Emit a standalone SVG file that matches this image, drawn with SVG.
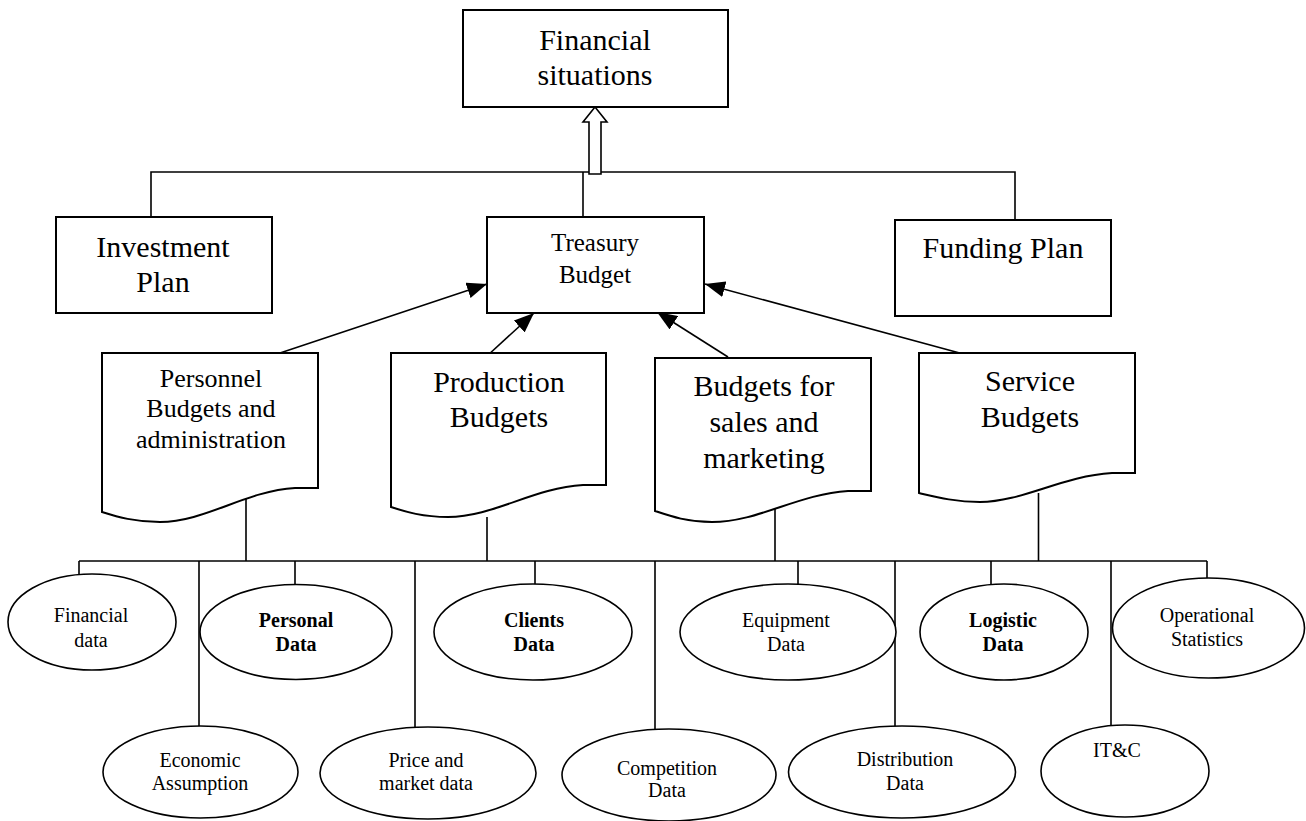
<svg xmlns="http://www.w3.org/2000/svg" width="1306" height="821" viewBox="0 0 1306 821">
<style>
.bx{fill:#fff;stroke:#000;stroke-width:2}
.el{fill:#fff;stroke:#000;stroke-width:1.6}
.ln{fill:none;stroke:#000;stroke-width:1.6}
.t{font-family:"Liberation Serif","Times New Roman",serif;fill:#000;text-anchor:middle}
.b{font-weight:bold}
</style>
<defs>
<marker id="ah" markerWidth="22" markerHeight="16" refX="20" refY="8" orient="auto" markerUnits="userSpaceOnUse">
<path d="M0,0 L20,8 L0,16 Z" fill="#000"/>
</marker>
</defs>
<rect width="1306" height="821" fill="#fff"/>
<g id="connectors">
<path class="ln" d="M151,217 V172 H1015 V220"/>
<path class="ln" d="M583,172 V217"/>
<path d="M589,174 V122 H583 L595,107 L607,122 H601 V174 Z" fill="#fff" stroke="#000" stroke-width="1.6"/>
<line class="ln" x1="271" y1="356" x2="487" y2="284" marker-end="url(#ah)"/>
<line class="ln" x1="487" y1="356" x2="534" y2="313" marker-end="url(#ah)"/>
<line class="ln" x1="728" y1="357" x2="657" y2="312" marker-end="url(#ah)"/>
<line class="ln" x1="967" y1="355" x2="705" y2="284" marker-end="url(#ah)"/>
<path class="ln" d="M246,493 V561 M487,517 V561 M775,493 V561 M1038.5,493 V561"/>
<path class="ln" d="M79,561 H1207"/>
<path class="ln" d="M79,561 V574 M199,561 V727 M295,561 V585 M415,561 V727 M535,561 V584 M655,561 V729 M798,561 V585 M895,561 V727 M991,561 V584 M1111,561 V725 M1207,561 V578"/>
</g>
<g id="financial-situations">
<rect class="bx" x="463" y="10" width="265" height="97"/>
<text class="t" x="595" y="50" font-size="30">Financial</text>
<text class="t" x="595" y="85" font-size="30">situations</text>
</g>
<g id="investment-plan">
<rect class="bx" x="56" y="217" width="216" height="96"/>
<text class="t" x="163" y="257" font-size="30">Investment</text>
<text class="t" x="163" y="292" font-size="30">Plan</text>
</g>
<g id="treasury-budget">
<rect class="bx" x="487" y="217" width="217" height="96"/>
<text class="t" x="595" y="251" font-size="25">Treasury</text>
<text class="t" x="595" y="283" font-size="25">Budget</text>
</g>
<g id="funding-plan">
<rect class="bx" x="895" y="220" width="216" height="96"/>
<text class="t" x="1003" y="258" font-size="30">Funding Plan</text>
</g>
<g id="personnel-budgets">
<path class="bx" d="M102,353 H318 V488 H295 C245,491 205,522 160,522 C135,522 118,517 102,512 Z"/>
<text class="t" x="211" y="387" font-size="26">Personnel</text>
<text class="t" x="211" y="417" font-size="26">Budgets and</text>
<text class="t" x="211" y="448" font-size="26">administration</text>
</g>
<g id="production-budgets">
<path class="bx" d="M391,353 H606 V485 H583 C533,488 493,517 448,517 C423,517 406,512 391,507 Z"/>
<text class="t" x="499" y="392" font-size="30">Production</text>
<text class="t" x="499" y="427" font-size="30">Budgets</text>
</g>
<g id="sales-marketing-budgets">
<path class="bx" d="M655,358 H871 V491 H848 C798,494 758,522 712,522 C687,522 670,516 655,511 Z"/>
<text class="t" x="764" y="396" font-size="30">Budgets for</text>
<text class="t" x="764" y="432" font-size="30">sales and</text>
<text class="t" x="764" y="468" font-size="30">marketing</text>
</g>
<g id="service-budgets">
<path class="bx" d="M919,353 H1135 V473 H1112 C1062,476 1022,502 980,502 C955,502 936,497 919,493 Z"/>
<text class="t" x="1030" y="391" font-size="30">Service</text>
<text class="t" x="1030" y="427" font-size="30">Budgets</text>
</g>
<g id="financial-data">
<ellipse class="el" cx="92" cy="622" rx="84" ry="48"/>
<text class="t" x="91" y="622" font-size="20">Financial</text>
<text class="t" x="91" y="647" font-size="20">data</text>
</g>
<g id="personal-data">
<ellipse class="el" cx="296" cy="632" rx="96" ry="47.5"/>
<text class="t b" x="296" y="627" font-size="20">Personal</text>
<text class="t b" x="296" y="651" font-size="20">Data</text>
</g>
<g id="clients-data">
<ellipse class="el" cx="533" cy="632" rx="99" ry="48"/>
<text class="t b" x="534" y="627" font-size="20">Clients</text>
<text class="t b" x="534" y="651" font-size="20">Data</text>
</g>
<g id="equipment-data">
<ellipse class="el" cx="788" cy="632" rx="108" ry="48"/>
<text class="t" x="786" y="627" font-size="20">Equipment</text>
<text class="t" x="786" y="651" font-size="20">Data</text>
</g>
<g id="logistic-data">
<ellipse class="el" cx="1004" cy="632" rx="84" ry="48"/>
<text class="t b" x="1003" y="627" font-size="20">Logistic</text>
<text class="t b" x="1003" y="651" font-size="20">Data</text>
</g>
<g id="operational-statistics">
<ellipse class="el" cx="1208.5" cy="628" rx="96" ry="50"/>
<text class="t" x="1207" y="622" font-size="20">Operational</text>
<text class="t" x="1207" y="646" font-size="20">Statistics</text>
</g>
<g id="economic-assumption">
<ellipse class="el" cx="200.5" cy="772" rx="97.5" ry="46"/>
<text class="t" x="200" y="767" font-size="20">Economic</text>
<text class="t" x="200" y="790" font-size="20">Assumption</text>
</g>
<g id="price-market-data">
<ellipse class="el" cx="428" cy="773" rx="108" ry="46"/>
<text class="t" x="426" y="767" font-size="20">Price and</text>
<text class="t" x="426" y="790" font-size="20">market data</text>
</g>
<g id="competition-data">
<ellipse class="el" cx="669" cy="775" rx="107" ry="46"/>
<text class="t" x="667" y="775" font-size="20">Competition</text>
<text class="t" x="667" y="797" font-size="20">Data</text>
</g>
<g id="distribution-data">
<ellipse class="el" cx="902" cy="772" rx="113.5" ry="46"/>
<text class="t" x="905" y="766" font-size="20">Distribution</text>
<text class="t" x="905" y="790" font-size="20">Data</text>
</g>
<g id="itc">
<ellipse class="el" cx="1125" cy="771" rx="84" ry="46"/>
<text class="t" x="1117" y="757" font-size="20">IT&amp;C</text>
</g>
</svg>
